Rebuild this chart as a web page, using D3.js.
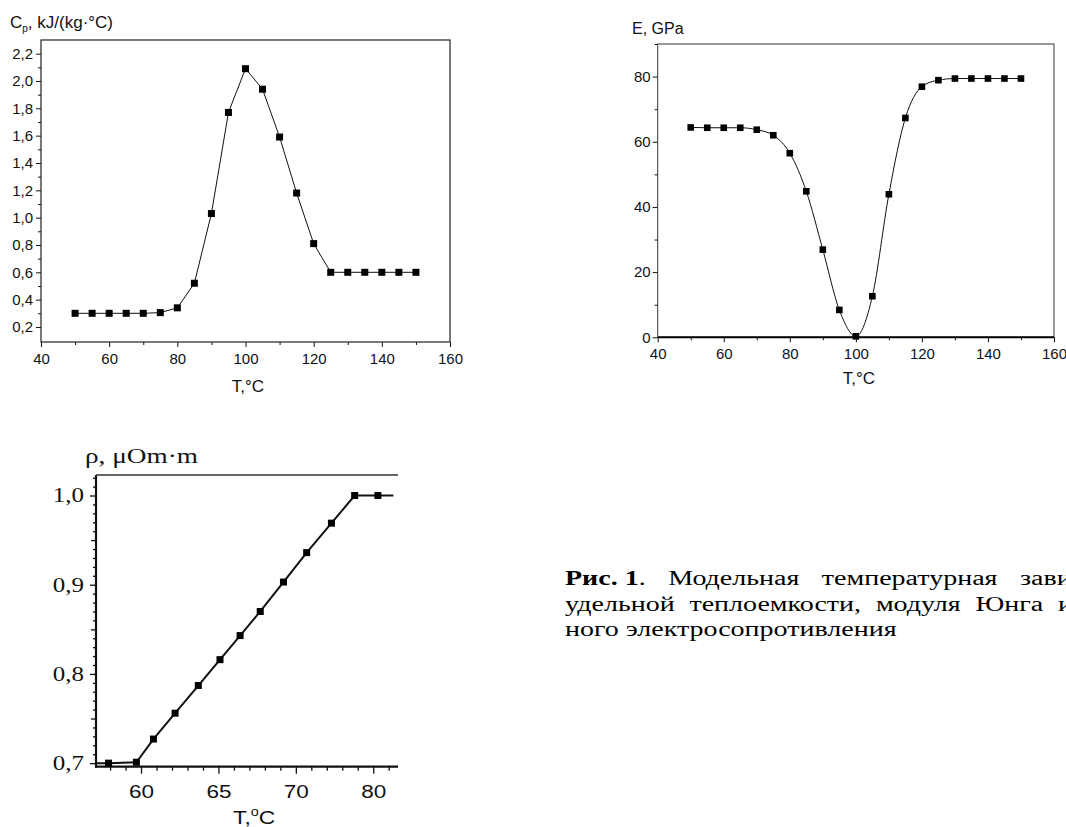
<!DOCTYPE html>
<html><head><meta charset="utf-8">
<script src="https://cdn.jsdelivr.net/npm/d3@7"></script>
<style>
html,body{margin:0;padding:0;background:#fff;}
svg{display:block;}
</style></head>
<body>
<svg id="c" width="1066" height="827"></svg>
<script>
// ---------- DATA ----------
const cpT = [50,55,60,65,70,75,80,85,90,95,100,105,110,115,120,125,130,135,140,145,150];
const cpV = [0.30,0.30,0.30,0.30,0.30,0.305,0.34,0.52,1.03,1.77,2.09,1.94,1.59,1.18,0.81,0.60,0.60,0.60,0.60,0.60,0.60];
const cpYTicks = [0.2,0.4,0.6,0.8,1.0,1.2,1.4,1.6,1.8,2.0,2.2];
const cpYMinor = [0.3,0.5,0.7,0.9,1.1,1.3,1.5,1.7,1.9,2.1];
const tXTicks = [40,60,80,100,120,140,160];
const tXMinor = [50,70,90,110,130,150];

const eT = [50,55,60,65,70,75,80,85,90,95,100,105,110,115,120,125,130,135,140,145,150];
const eV = [64.4,64.3,64.3,64.3,63.7,62.0,56.5,44.8,26.9,8.4,0.3,12.6,43.9,67.3,76.9,78.9,79.4,79.4,79.4,79.4,79.4];
const eYTicks = [0,20,40,60,80];
const eYMinor = [10,30,50,70,90];

const rhoT = [57.9,59.7,60.8,62.2,63.7,65.1,66.4,67.7,69.2,70.7,72.3,73.8,75.3];
const rhoV = [0.700,0.701,0.727,0.756,0.787,0.816,0.843,0.870,0.903,0.936,0.969,1.000,1.000];
const rhoLineStart = [57.09, 0.700];
const rhoLineEnd = [76.3, 1.000];
const rhoYTicks = [0.7,0.8,0.9,1.0];
const rhoYTickLabels = ["0,7","0,8","0,9","1,0"];
const rhoYMid = [0.75,0.85,0.95];
const rhoYMinor = d3.range(70,103).map(d=>d/100).filter(d=>Math.round(d*100)%5!==0);
const rhoXTicks = [60,65,70,75];
const rhoXTickLabels = ["60","65","70","80"];
const rhoXMinor = [58,59,61,62,63,64,66,67,68,69,71,72,73,74,76];

const captionLines = [
  [[{t:"Рис. 1", b:true},{t:"."}], [{t:"Модельная"}], [{t:"температурная"}], [{t:"зави"}]],
  [[{t:"удельной"}], [{t:"теплоемкости,"}], [{t:"модуля"}], [{t:"Юнга"}], [{t:"и"}]],
  [[{t:"ного электросопротивления"}]]
];

// ---------- DRAW ----------
const svg = d3.select("#c");
svg.append("rect").attr("width",1066).attr("height",827).attr("fill","#fff");
const comma = d => d3.format(".1f")(d).replace(".",",");
const SANS = "Liberation Sans, Arial, sans-serif";
const SERIF = "Liberation Serif, Times New Roman, serif";

function styleAxis(g, font, size){
  g.select(".domain").remove();
  g.selectAll("line").attr("stroke","#111");
  g.selectAll("text").attr("font-family",font).attr("font-size",size).attr("fill","#111");
}
function stretch(sel, s){
  sel.each(function(){
    const w = this.getComputedTextLength();
    if (w>0) d3.select(this).attr("textLength", w*s).attr("lengthAdjust","spacingAndGlyphs");
  });
}

// Chart 1
{
  const x = d3.scaleLinear().domain([40,160]).range([41,450]);
  const y = d3.scaleLinear().domain([0.09,2.3]).range([342,40]);
  const g = svg.append("g");
  g.append("g").attr("transform","translate(0,342)")
    .call(d3.axisBottom(x).tickValues(tXTicks).tickSize(5).tickPadding(6).tickFormat(d3.format("d")))
    .call(a=>styleAxis(a,SANS,15));
  g.append("g").attr("transform","translate(0,342)")
    .call(d3.axisBottom(x).tickValues(tXMinor).tickSize(3).tickFormat(""))
    .call(a=>styleAxis(a,SANS,15));
  g.append("g").attr("transform","translate(41,0)")
    .call(d3.axisLeft(y).tickValues(cpYTicks).tickSize(5).tickPadding(3).tickFormat(comma))
    .call(a=>styleAxis(a,SANS,15));
  g.append("g").attr("transform","translate(41,0)")
    .call(d3.axisLeft(y).tickValues(cpYMinor).tickSize(3).tickFormat(""))
    .call(a=>styleAxis(a,SANS,15));
  g.append("rect").attr("x",41).attr("y",40).attr("width",409).attr("height",302)
    .attr("fill","none").attr("stroke","#222").attr("stroke-width",1.2);
  const line = d3.line().x((d,i)=>x(cpT[i])).y(d=>y(d));
  g.append("path").datum(cpV).attr("d",line).attr("fill","none").attr("stroke","#111").attr("stroke-width",1);
  g.selectAll(".m").data(cpV).join("rect")
    .attr("x",(d,i)=>x(cpT[i])-3.5).attr("y",d=>y(d)-3.5).attr("width",7).attr("height",7).attr("fill","#000");
  const lab = g.append("text").attr("x",10).attr("y",28).attr("font-family",SANS).attr("font-size",17).attr("fill","#111");
  lab.append("tspan").text("C");
  lab.append("tspan").attr("font-size",10).attr("dy",4).text("p");
  lab.append("tspan").attr("dy",-4).text(", kJ/(kg·°C)");
  g.append("text").attr("x",248).attr("y",392).attr("text-anchor","middle")
    .attr("font-family",SANS).attr("font-size",17).attr("fill","#111").text("T,°C");
}

// Chart 2
{
  const x = d3.scaleLinear().domain([40,160]).range([657.7,1054]);
  const y = d3.scaleLinear().domain([0,90]).range([337.3,44]);
  const g = svg.append("g");
  g.append("g").attr("transform","translate(0,337.3)")
    .call(d3.axisBottom(x).tickValues(tXTicks).tickSize(5).tickPadding(6).tickFormat(d3.format("d")))
    .call(a=>styleAxis(a,SANS,15));
  g.append("g").attr("transform","translate(0,337.3)")
    .call(d3.axisBottom(x).tickValues(tXMinor).tickSize(3).tickFormat(""))
    .call(a=>styleAxis(a,SANS,15));
  g.append("g").attr("transform","translate(657.7,0)")
    .call(d3.axisLeft(y).tickValues(eYTicks).tickSize(5).tickPadding(2).tickFormat(d3.format("d")))
    .call(a=>styleAxis(a,SANS,15));
  g.append("g").attr("transform","translate(657.7,0)")
    .call(d3.axisLeft(y).tickValues(eYMinor).tickSize(3).tickFormat(""))
    .call(a=>styleAxis(a,SANS,15));
  g.append("rect").attr("x",657.7).attr("y",44).attr("width",1054-657.7).attr("height",337.3-44)
    .attr("fill","none").attr("stroke","#333").attr("stroke-width",1);
  g.append("line").attr("x1",657.7).attr("x2",1054).attr("y1",337.3).attr("y2",337.3)
    .attr("stroke","#000").attr("stroke-width",2);
  const line = d3.line().x((d,i)=>x(eT[i])).y(d=>y(d)).curve(d3.curveMonotoneX);
  g.append("path").datum(eV).attr("d",line).attr("fill","none").attr("stroke","#111").attr("stroke-width",1);
  g.selectAll(".m").data(eV).join("rect")
    .attr("x",(d,i)=>x(eT[i])-3.3).attr("y",d=>y(d)-3.3).attr("width",6.6).attr("height",6.6).attr("fill","#000");
  g.append("text").attr("x",632).attr("y",34).attr("font-family",SANS).attr("font-size",16).attr("fill","#111").text("E, GPa");
  g.append("text").attr("x",859).attr("y",384).attr("text-anchor","middle")
    .attr("font-family",SANS).attr("font-size",17).attr("fill","#111").text("T,°C");
}

// Chart 3 (the scanned source is horizontally stretched, so its texts are widened)
{
  const x = d3.scaleLinear().domain([57.09,76.6]).range([96,398]);
  const y = d3.scaleLinear().domain([0.696,1.023]).range([766.7,475]);
  const g = svg.append("g");
  g.append("g").attr("transform","translate(0,766.7)")
    .call(d3.axisBottom(x).tickValues(rhoXTicks).tickSize(7).tickPadding(12).tickFormat((d,i)=>rhoXTickLabels[i]))
    .call(a=>styleAxis(a,SANS,18))
    .call(a=>stretch(a.selectAll("text"),1.25));
  g.append("g").attr("transform","translate(0,766.7)")
    .call(d3.axisBottom(x).tickValues(rhoXMinor).tickSize(4).tickFormat(""))
    .call(a=>styleAxis(a,SANS,18));
  g.append("g").attr("transform","translate(96,0)")
    .call(d3.axisLeft(y).tickValues(rhoYTicks).tickSize(6).tickPadding(6).tickFormat((d,i)=>rhoYTickLabels[i]))
    .call(a=>styleAxis(a,SERIF,20))
    .call(a=>stretch(a.selectAll("text"),1.25));
  g.append("g").attr("transform","translate(96,0)")
    .call(d3.axisLeft(y).tickValues(rhoYMid).tickSize(5).tickFormat(""))
    .call(a=>styleAxis(a,SERIF,20));
  g.append("g").attr("transform","translate(96,0)")
    .call(d3.axisLeft(y).tickValues(rhoYMinor).tickSize(3).tickFormat(""))
    .call(a=>styleAxis(a,SERIF,20));
  g.selectAll(".tick line").attr("stroke-width",1.3);
  g.append("line").attr("x1",96).attr("x2",96).attr("y1",475).attr("y2",767.7).attr("stroke","#111").attr("stroke-width",2.2);
  g.append("line").attr("x1",95).attr("x2",398).attr("y1",766.7).attr("y2",766.7).attr("stroke","#111").attr("stroke-width",2.2);
  g.append("line").attr("x1",96).attr("x2",398).attr("y1",475).attr("y2",475).attr("stroke","#333").attr("stroke-width",1.5);
  const pts = [rhoLineStart].concat(rhoT.map((t,i)=>[t,rhoV[i]])).concat([rhoLineEnd]);
  g.append("path").datum(pts).attr("d",d3.line().x(d=>x(d[0])).y(d=>y(d[1])))
    .attr("fill","none").attr("stroke","#111").attr("stroke-width",2);
  g.selectAll(".m").data(rhoV).join("rect")
    .attr("x",(d,i)=>x(rhoT[i])-3.5).attr("y",d=>y(d)-3.5).attr("width",7).attr("height",7).attr("fill","#000");
  g.append("text").attr("x",85).attr("y",463).attr("font-family",SERIF).attr("font-size",20).attr("fill","#111")
    .attr("textLength",113).attr("lengthAdjust","spacingAndGlyphs").text("ρ, μOm·m");
  const tg = g.append("g").attr("transform","translate(233,824) scale(1.2,1)");
  const tl = tg.append("text").attr("x",0).attr("y",0).attr("font-family",SANS).attr("font-size",19).attr("fill","#111");
  tl.append("tspan").text("T,");
  tl.append("tspan").attr("font-size",12).attr("dy",-8).text("o");
  tl.append("tspan").attr("dy",8).text("C");
}

// Caption: justified lines, widened like the scan; first two lines run off the right edge
{
  const FS = 20, X0 = 565, S = 1.4;
  const lastStarts = [1020, 1058, null];
  captionLines.forEach((words, li)=>{
    const y = 585 + li*25.5;
    const items = words.map(parts=>parts.map(p=>{
      const t = svg.append("text").attr("y",y).attr("font-family",SERIF).attr("font-size",FS).attr("fill","#000").text(p.t);
      if (p.b) t.attr("font-weight","bold");
      const w = t.node().getComputedTextLength();
      t.attr("textLength", w*S).attr("lengthAdjust","spacingAndGlyphs");
      return {t, w: w*S};
    }));
    const widths = items.map(parts=>d3.sum(parts,p=>p.w));
    let gap = 0;
    if (lastStarts[li]!==null) gap = (lastStarts[li] - X0 - d3.sum(widths.slice(0,-1))) / (items.length-1);
    let cx = X0;
    items.forEach((parts,i)=>{
      let px = cx;
      parts.forEach(p=>{ p.t.attr("x",px); px += p.w; });
      cx += widths[i] + gap;
    });
  });
}
</script>
</body></html>
